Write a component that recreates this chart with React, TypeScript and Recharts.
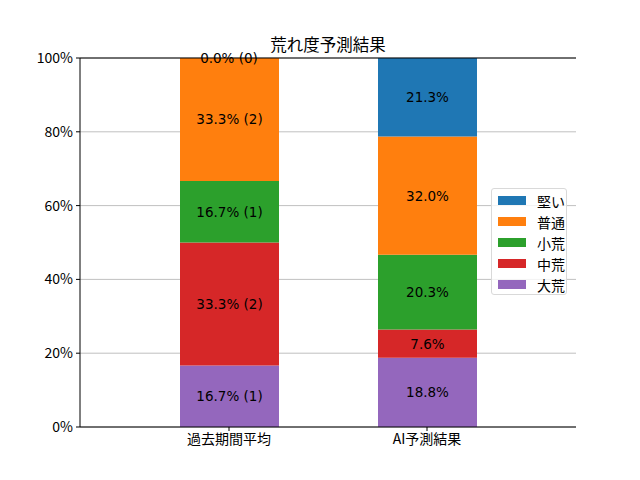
import { BarChart, Bar, XAxis, YAxis, CartesianGrid, LabelList, ReferenceLine, ReferenceDot } from 'recharts';

const categories = ['過去期間平均', 'AI予測結果'];
const seriesNames = ['大荒', '中荒', '小荒', '普通', '堅い'];
const COLORS = ['#9467bd', '#d62728', '#2ca02c', '#ff7f0e', '#1f77b4'];

// percentages per series, [過去期間平均, AI予測結果]
const daiare = [16.7, 18.8];
const chuare = [33.3, 7.6];
const shoare = [16.7, 20.3];
const futsu = [33.3, 32.0];
const katai = [0.0, 21.3];

// race counts for the past-period bar only
const pastCounts = [1, 2, 1, 2, 0];

const yTicks = [0, 20, 40, 60, 80, 100];

const seriesValues = [daiare, chuare, shoare, futsu, katai];

const labelText = (k: number, i: number) => {
  const v = seriesValues[k][i].toFixed(1) + '%';
  return i === 0 ? `${v} (${pastCounts[k]})` : v;
};

const data = categories.map((name, i) => {
  const row: any = { name };
  seriesNames.forEach((s, k) => {
    row[s] = seriesValues[k][i];
    row[s + '_label'] = labelText(k, i);
  });
  return row;
});

// zero-height segments get their label at the stack position
const zeroLabels: { name: string; y: number; text: string }[] = [];
categories.forEach((name, i) => {
  let acc = 0;
  seriesValues.forEach((vals, k) => {
    if (vals[i] === 0) zeroLabels.push({ name, y: acc, text: labelText(k, i) });
    acc += vals[i];
  });
});

const FONT = '"Noto Sans CJK JP", sans-serif';
const LABEL_FONT = '"DejaVu Sans", "Noto Sans CJK JP", sans-serif';

const SegLabel = (props: any) => {
  const { x, y, width, height, value } = props;
  return (
    <text
      x={Number(x) + Number(width) / 2}
      y={Number(y) + Number(height) / 2}
      textAnchor="middle"
      dominantBaseline="central"
      fontSize={13.5}
      fontFamily={LABEL_FONT}
      fill="#000"
    >
      {value}
    </text>
  );
};

const LegendBox = () => (
  <div
    style={{
      position: 'absolute',
      left: 491,
      top: 188,
      width: 76,
      height: 107,
      boxSizing: 'border-box',
      border: '1px solid #d9d9d9',
      borderRadius: 3,
      background: 'rgba(255,255,255,0.8)',
      padding: '1px 0 0 6px',
      fontFamily: FONT,
      fontSize: 14,
      whiteSpace: 'nowrap',
    }}
  >
    {[...seriesNames].reverse().map((s) => {
      const k = seriesNames.indexOf(s);
      return (
        <div key={s} style={{ display: 'flex', alignItems: 'center', height: 21 }}>
          <span style={{ display: 'inline-block', width: 28, height: 9, background: COLORS[k], marginRight: 11 }} />
          <span>{s}</span>
        </div>
      );
    })}
  </div>
);

const App = () => {
  return (
    <div style={{ position: 'absolute', left: 0, top: 0, width: 640, height: 480, background: '#fff' }}>
      <div
        style={{
          position: 'absolute',
          left: 80,
          width: 496,
          top: 32,
          textAlign: 'center',
          fontFamily: FONT,
          fontSize: 16.5,
          lineHeight: '24px',
        }}
      >
        荒れ度予測結果
      </div>
      <BarChart width={640} height={480} data={data} margin={{ top: 58, right: 64, bottom: 0, left: 0 }}>
        <CartesianGrid vertical={false} stroke="#b0b0b0" strokeWidth={0.8} />
        <XAxis
          dataKey="name"
          padding={{ left: 50, right: 50 }}
          height={53}
          tickSize={4}
          tickMargin={3}
          stroke="#000"
          tick={{ fill: '#000', fontSize: 14, fontFamily: FONT }}
        />
        <YAxis
          domain={[0, 100]}
          ticks={yTicks}
          tickFormatter={(v) => `${v}%`}
          width={80}
          tickSize={4}
          tickMargin={3}
          stroke="#000"
          tick={{ fill: '#000', fontSize: 14, fontFamily: FONT }}
        />
        <YAxis yAxisId="r" orientation="right" width={0} domain={[0, 100]} tick={false} stroke="#000" />
        <ReferenceLine y={100} stroke="#000" />
        {seriesNames.map((s, k) => (
          <Bar key={s} dataKey={s} stackId="a" fill={COLORS[k]} barSize={99} isAnimationActive={false}>
            <LabelList dataKey={s + '_label'} content={SegLabel} />
          </Bar>
        ))}
        {zeroLabels.map((z) => (
          <ReferenceDot
            key={z.name + z.text}
            x={z.name}
            y={z.y}
            r={0}
            stroke="none"
            label={{ value: z.text, position: 'center', fill: '#000', fontSize: 13.5, fontFamily: LABEL_FONT }}
          />
        ))}
      </BarChart>
      <LegendBox />
    </div>
  );
};

export default App;
